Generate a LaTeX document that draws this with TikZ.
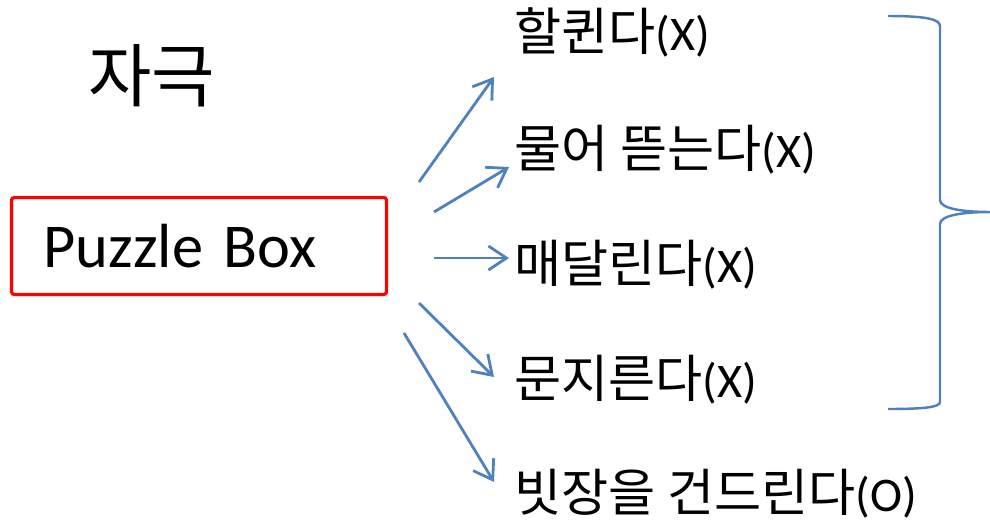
\documentclass[tikz,border=0pt]{standalone}
\usepackage{fontspec}
\setmainfont{Carlito}[WordSpace=0.75]
\newfontfamily\krfont[Scale=1.06]{Noto Sans CJK KR}
\usepackage{tikz}
\usetikzlibrary{arrows.meta, positioning, calc}
\definecolor{arrowblue}{RGB}{79,129,189}
\tikzstyle{arrow} = [draw=arrowblue, line width=1.6pt, -{Straight Barb[length=3.6mm, width=4.8mm]}]
\tikzstyle{brace} = [draw=arrowblue, line width=1.4pt]
\tikzstyle{choice} = [anchor=base west, inner sep=0pt, font=\fontsize{27.5}{32}\selectfont]
\tikzstyle{box} = [rectangle, draw=red, line width=1.8pt, rounded corners=1.5pt, minimum height=1.94cm, text width=6.22cm, inner xsep=0.64cm, align=left, font=\fontsize{35.5}{42}\selectfont]

\begin{document}
\begin{tikzpicture}[x=0.02cm, y=-0.02cm]
      \useasboundingbox (0,0) rectangle (990,522);

      % Stimulus and box
      \node [anchor=base west, inner sep=0pt, font=\krfont\fontsize{37}{44}\selectfont] (stim) at (88,101) {자극};
      \node [box] (puzzle) at (199,246) {Puzzle Box};

      % Responses
      \node [choice] (c1) at (514,50) {{\krfont 할퀸다}(X)};
      \node [choice] (c2) at (514,167) {{\krfont 물어 뜯는다}(X)};
      \node [choice] (c3) at (514,282) {{\krfont 매달린다}(X)};
      \node [choice] (c4) at (514,397) {{\krfont 문지른다}(X)};
      \node [choice] (c5) at (514,511) {{\krfont 빗장을 건드린다}(O)};

      % Arrow ends
      \coordinate (s1) at (419,182); \coordinate (e1) at (494,77);
      \coordinate (s2) at (434,212); \coordinate (e2) at (509,167);
      \coordinate (s3) at (434,258); \coordinate (e3) at (509,258);
      \coordinate (s4) at (419,303); \coordinate (e4) at (494,377);
      \coordinate (s5) at (404,333); \coordinate (e5) at (494,482);

      \draw [arrow] (s1) -- (e1);
      \draw [arrow] (s2) -- (e2);
      \draw [arrow] (s3) -- (e3);
      \draw [arrow] (s4) -- (e4);
      \draw [arrow] (s5) -- (e5);

      % Brace over the four failures
      \draw [brace] (888,16) .. controls (925,16) and (940,19) .. (940,26) -- (940,200)
        .. controls (940,208) and (960,212) .. (990,212)
        .. controls (960,212) and (940,216) .. (940,224) -- (940,402)
        .. controls (940,407) and (925,409) .. (888,409);
\end{tikzpicture}
\end{document}
